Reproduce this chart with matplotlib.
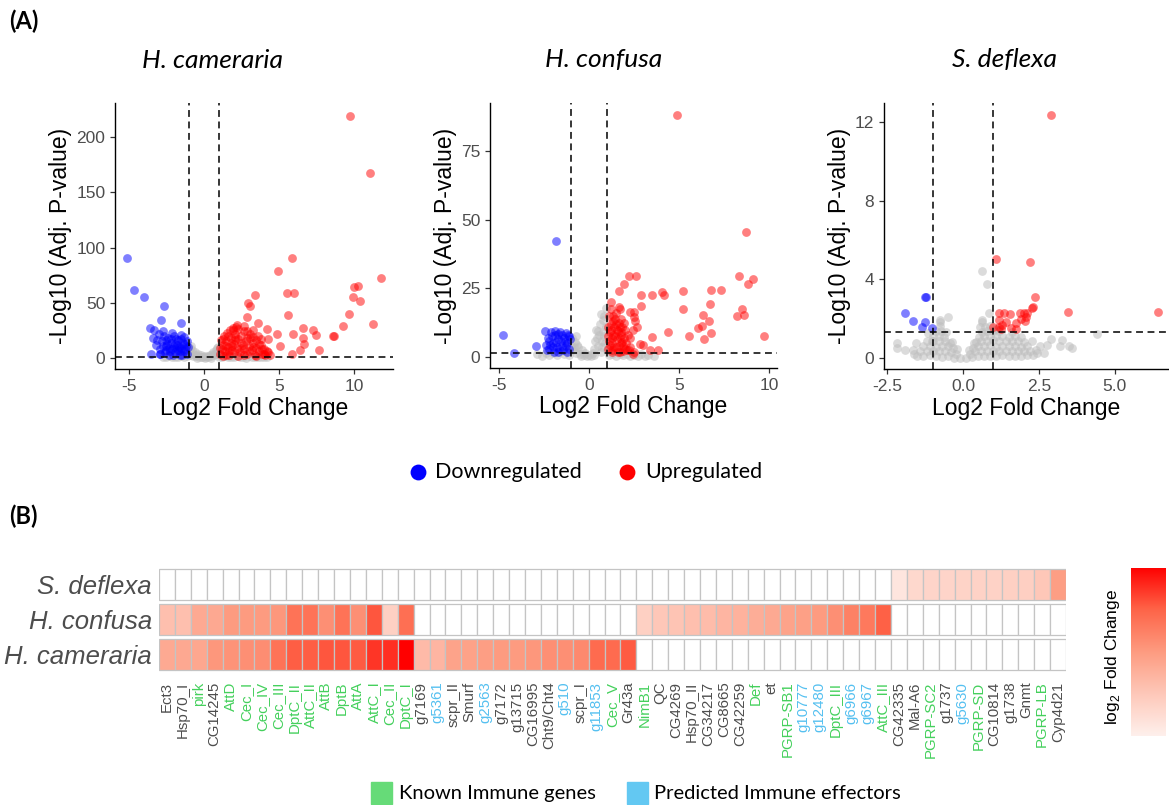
import matplotlib
matplotlib.use("Agg")
import matplotlib.pyplot as plt
import numpy as np
from matplotlib.colors import LinearSegmentedColormap, Normalize
from matplotlib.patches import Rectangle

W, H = 1169, 805
plt.rcParams["font.family"] = ["Liberation Sans", "DejaVu Sans"]
plt.rcParams["axes.unicode_minus"] = False
plt.rcParams["mathtext.fontset"] = "custom"
plt.rcParams["mathtext.rm"] = "Liberation Sans"

nan = float("nan")

# ---- volcano data: (log2 fold change, -log10 adj. p) ----
cam_up = [
    (9.75, 219), (11.05, 167.5), (11.8, 72), (10.0, 64), (10.3, 65), (9.95, 55), (10.4, 52),
    (9.7, 40), (11.25, 31), (9.3, 29), (8.6, 20), (8.7, 20), (4.93, 79), (5.87, 91), (5.54, 59),
    (6.03, 59), (5.6, 39), (4.9, 22), (5.1, 10.5), (5.94, 22), (6.57, 27), (7.24, 25), (7.5, 21),
    (6.6, 18), (6.7, 12.7), (6.4, 7), (7.7, 7), (5.9, 3.3), (3.43, 57), (2.94, 50), (3.07, 47),
    (2.9, 37), (3.63, 32), (2.7, 29), (3.27, 25), (4.17, 26), (4.28, 17.5), (2.2, 29.5), (1.93, 25),
    (1.1, 4), (1.2, 8), (1.3, 12), (1.4, 6), (1.5, 15), (1.6, 10), (1.7, 3), (1.8, 18), (1.9, 7),
    (2.0, 13), (2.1, 22), (2.2, 9), (2.3, 17), (2.4, 5), (2.5, 20), (2.6, 12), (2.7, 8), (2.8, 15),
    (2.9, 4), (3.0, 11), (3.1, 18), (3.2, 7), (3.3, 14), (3.4, 3), (3.5, 9), (3.6, 20), (3.7, 6),
    (3.8, 12), (3.9, 4), (4.0, 8), (4.1, 3), (4.2, 6), (4.3, 5), (4.4, 2.5), (1.15, 16), (1.35, 20),
    (1.55, 23), (1.75, 25), (1.95, 27), (2.15, 28), (2.05, 19), (1.25, 2), (1.45, 3), (1.65, 6),
    (1.85, 11), (2.25, 2), (2.45, 14), (2.65, 24), (2.85, 18), (3.05, 22), (3.25, 19), (3.45, 2),
    (3.65, 13), (3.85, 8), (1.05, 9), (1.5, 11), (2.0, 5), (2.5, 9), (3.0, 6), (3.5, 16), (4.0, 3.5),
    (2.3, 26), (1.8, 14), (2.7, 3), (3.3, 10), (1.3, 17), (2.9, 24), (3.8, 17), (2.1, 16), (1.6, 20),
]
cam_down = [
    (-5.13, 91), (-4.64, 61.5), (-4.01, 55), (-2.67, 47), (-2.87, 34), (-3.59, 27), (-1.5, 32),
    (-3.5, 4), (-2.9, 4), (-3.4, 18), (-3.2, 12), (-3.0, 22), (-2.9, 8), (-2.8, 15), (-2.7, 24),
    (-2.6, 5), (-2.5, 11), (-2.4, 18), (-2.3, 3), (-2.2, 14), (-2.1, 8), (-2.0, 20), (-1.9, 5),
    (-1.8, 12), (-1.7, 16), (-1.6, 3), (-1.5, 9), (-1.4, 14), (-1.3, 6), (-1.2, 11), (-1.1, 4),
    (-1.15, 15), (-1.35, 19), (-1.55, 21), (-1.75, 7), (-1.95, 13), (-2.15, 23), (-2.35, 9),
    (-2.55, 16), (-2.75, 11), (-2.95, 4), (-3.1, 16), (-1.25, 8), (-1.45, 2.5), (-1.65, 10),
    (-1.85, 17), (-2.05, 2.5), (-2.25, 6), (-2.45, 13), (-2.65, 20), (-1.05, 10), (-1.5, 17),
    (-2.0, 10), (-2.5, 7), (-1.3, 13), (-1.8, 9), (-1.6, 6), (-3.3, 25), (-2.2, 17),
]
cam_ns = [
    (-2.7, 1), (-2.5, 0.5), (-2.3, 1.5), (-2.1, 0.8), (-1.9, 1.2), (-1.7, 0.6), (-1.5, 1.8),
    (-1.3, 0.9), (-1.1, 2), (-1.0, 5), (-0.95, 9), (-0.9, 3), (-0.8, 7), (-0.7, 2), (-0.6, 5),
    (-0.5, 1.5), (-0.4, 3.5), (-0.3, 1), (-0.2, 2.5), (-0.1, 0.5), (0.0, 1.5), (0.1, 0.3),
    (0.2, 2.2), (0.3, 1), (0.4, 3), (0.5, 1.8), (0.6, 5), (0.7, 2.5), (0.8, 7), (0.9, 4),
    (0.95, 10), (1.0, 1.2), (1.2, 0.5), (1.4, 1.5), (1.6, 0.7), (1.8, 1.3), (2.0, 0.5), (2.2, 1.6),
    (2.4, 0.8), (2.6, 1.2), (2.8, 0.4), (3.0, 1.4), (3.2, 0.8), (3.4, 1.1), (3.6, 0.6), (3.8, 1.0),
    (4.0, 0.5), (4.2, 1.2), (-0.85, 11), (-0.75, 4), (0.85, 9), (0.75, 4), (-0.15, 1.3),
    (0.15, 1.1), (-0.45, 0.4), (0.45, 0.4), (-1.2, 3.5), (1.1, 3), (-0.55, 3), (0.55, 3.2),
]

conf_up = [
    (4.89, 88.2), (8.7, 45.6), (8.33, 29.5), (9.09, 28.3), (8.83, 26.7), (8.22, 15), (8.63, 15.2),
    (8.5, 17.4), (9.7, 7.5), (6.8, 24.2), (7.35, 24.4), (6.74, 19.3), (6.33, 15.2), (6.67, 13.2),
    (6.3, 11.4), (6.06, 10.5), (6.76, 8.6), (6.37, 6.7), (5.54, 7.7), (5.22, 24.1), (5.22, 17.3),
    (4.37, 9.1), (4.07, 23.8), (4.15, 22.7), (3.52, 22.7), (3.5, 7.2), (3.83, 2.7), (3.37, 2.7),
    (2.2, 29.5), (2.63, 29.5), (1.93, 26.4), (1.69, 24), (2.89, 22.4), (2.89, 18.5), (1.24, 20),
    (1.67, 18.2), (1.74, 17.3), (2.28, 16.4), (2.5, 16.4), (2.5, 14.6), (2.56, 13.1), (2.43, 9.7),
    (2.65, 11), (2.81, 4.9), (3.0, 4.5), (2.26, 6.8), (2.2, 2.4), (2.44, 1.2),
    (1.05, 3), (1.1, 6), (1.15, 9), (1.2, 12), (1.25, 2), (1.3, 5), (1.35, 8), (1.4, 11),
    (1.45, 14), (1.5, 3.5), (1.55, 6.5), (1.6, 9.5), (1.65, 12.5), (1.7, 2), (1.75, 5), (1.8, 8),
    (1.85, 11), (1.9, 4), (1.95, 7), (2.0, 10), (1.1, 15), (1.2, 17.5), (1.35, 13), (1.5, 16),
    (1.65, 4), (1.8, 14), (1.05, 11), (1.3, 2.5), (1.45, 7.5), (1.6, 1.8), (1.75, 9), (1.9, 2.2),
    (2.05, 5), (2.1, 2.5), (1.15, 4.5), (1.4, 3.5), (1.55, 10), (1.7, 7), (1.85, 5.5), (2.0, 3),
    (1.25, 7), (1.5, 12), (1.2, 10), (1.7, 11), (1.35, 15), (2.15, 8), (2.3, 3.5), (2.5, 2),
    (1.95, 12.5), (1.05, 7.5),
]
conf_down = [
    (-1.85, 42.3), (-4.8, 8.1), (-4.15, 1.3), (-2.96, 3.9), (-2.45, 9.5), (-2.3, 7), (-2.2, 3),
    (-2.1, 9), (-2.0, 5), (-1.9, 8), (-1.8, 3.5), (-1.7, 6.5), (-1.6, 9), (-1.5, 4), (-1.4, 7),
    (-1.3, 8.9), (-1.2, 5), (-1.1, 3), (-1.05, 6.5), (-1.15, 8), (-1.25, 2), (-1.35, 5.5),
    (-1.45, 2.5), (-1.55, 6), (-1.65, 3), (-1.75, 8.5), (-1.85, 5.5), (-1.95, 2), (-2.05, 7.5),
    (-2.15, 4.5), (-2.25, 6), (-2.35, 2.5), (-2.4, 4.5), (-1.9, 9.5), (-1.5, 8), (-1.3, 4),
    (-1.7, 2), (-2.0, 3.5), (-1.1, 7.5),
]
conf_ns = [
    (-2.9, 1.2), (-2.6, 0.5), (-2.4, 1.5), (-2.2, 0.8), (-2.0, 1.3), (-1.8, 0.6), (-1.6, 1.8),
    (-1.4, 1.0), (-1.2, 2.2), (-1.0, 4), (-0.95, 7), (-0.9, 2.5), (-0.8, 5.5), (-0.7, 1.5),
    (-0.6, 3.5), (-0.5, 1), (-0.4, 2.5), (-0.3, 0.7), (-0.2, 1.5), (-0.1, 0.4), (0.0, 0.8),
    (0.1, 0.3), (0.2, 1.5), (0.3, 3), (0.35, 6), (0.4, 10), (0.5, 4), (0.55, 8), (0.6, 12),
    (0.65, 2), (0.7, 6), (0.75, 13.6), (0.8, 9), (0.85, 15), (0.9, 5), (0.93, 18), (0.95, 11),
    (0.98, 2.5), (1.1, 0.8), (1.3, 1.2), (1.5, 0.5), (1.7, 1.0), (1.9, 0.6), (2.1, 1.1), (2.3, 0.4),
    (2.5, 0.9), (2.7, 0.5), (2.9, 1.0), (3.1, 0.3), (3.3, 0.8), (3.6, 0.5), (-0.85, 3.5),
    (-0.75, 7.5), (-0.65, 4.5), (0.45, 7), (0.25, 0.8), (-0.45, 0.3), (0.7, 3.5), (0.85, 7.5),
    (-1.1, 0.6), (0.65, 15.5), (0.5, 9.5),
]

defl_up = [
    (2.91, 12.34), (1.1, 5.03), (2.19, 4.88), (2.36, 3.08), (2.31, 2.6), (2.27, 2.52), (3.45, 2.35),
    (6.43, 2.35), (1.19, 2.3), (1.34, 2.3), (1.56, 2.23), (1.89, 2.3), (2.0, 2.3), (2.11, 2.3),
    (2.07, 2.09), (1.19, 1.92), (1.43, 1.85), (1.76, 1.8), (2.05, 1.87), (1.19, 1.55), (1.25, 1.48),
    (1.59, 1.53), (1.74, 1.48), (1.0, 1.6), (1.3, 1.7), (1.9, 2.0),
]
defl_down = [
    (-1.24, 3.09), (-1.21, 3.09), (-1.92, 2.31), (-1.63, 1.87), (-1.24, 1.84), (-1.36, 1.58),
    (-1.02, 1.53),
]
defl_ns = [
    (0.64, 4.42), (0.8, 3.74), (0.87, 2.31), (0.64, 1.92), (-0.77, 1.92), (-0.49, 2.06),
    (4.42, 1.24), (3.19, 0.61), (3.5, 0.61), (3.6, 0.5), (3.27, 0.93), (2.88, 0.98), (2.78, 0.65),
    (2.67, 0.27), (2.42, 0.27), (2.55, 0.61), (2.27, 0.87), (-2.18, 0.78), (-2.18, 0.53),
    (-1.92, 0.41), (-1.63, 0.41), (-1.54, 0.75), (-1.01, 0.87),
    (-1.5, 0.12), (-1.3, 0.08), (-1.1, 0.15), (-0.9, 0.1), (-0.7, 0.05), (-0.5, 0.12),
    (-0.3, 0.02), (-0.1, 0.0), (0.1, 0.02), (0.3, 0.05), (0.5, 0.1), (0.7, 0.08), (0.9, 0.12),
    (1.1, 0.1), (1.3, 0.14), (1.5, 0.09), (1.7, 0.12), (1.9, 0.1), (2.1, 0.15),
    (-1.4, 0.35), (-1.2, 0.38), (-1.0, 0.33), (-0.8, 0.36), (-0.6, 0.34), (-0.4, 0.3),
    (-0.22, 0.2), (0.22, 0.22), (0.4, 0.33), (0.6, 0.37), (0.8, 0.35), (1.0, 0.38), (1.2, 0.34),
    (1.4, 0.36), (1.6, 0.33), (1.8, 0.37), (2.0, 0.35), (2.2, 0.33), (2.4, 0.4),
    (-1.3, 0.6), (-1.1, 0.62), (-0.9, 0.58), (-0.7, 0.63), (-0.5, 0.6), (-0.33, 0.5), (0.33, 0.5),
    (0.5, 0.62), (0.7, 0.6), (0.9, 0.64), (1.1, 0.58), (1.3, 0.62), (1.5, 0.6), (1.7, 0.63),
    (1.9, 0.57), (2.1, 0.6),
    (-1.2, 0.85), (-1.0, 0.88), (-0.8, 0.86), (-0.6, 0.84), (-0.44, 0.75), (0.42, 0.8),
    (0.6, 0.88), (0.8, 0.85), (1.0, 0.9), (1.2, 0.86), (1.4, 0.84), (1.6, 0.88), (1.8, 0.85),
    (2.0, 0.83),
    (-1.0, 1.1), (-0.8, 1.12), (-0.62, 1.08), (0.52, 1.05), (0.7, 1.12), (0.9, 1.1), (1.1, 1.13),
    (1.3, 1.1), (1.5, 1.08), (1.7, 1.12),
    (-0.9, 1.35), (-0.72, 1.38), (0.62, 1.32), (0.8, 1.38), (1.0, 1.35), (1.2, 1.36),
    (-0.75, 1.62), (0.72, 1.6), (0.9, 1.65), (-0.77, 1.85), (0.62, 1.85),
    (-1.6, 0.22), (-0.2, 0.45), (0.2, 0.4), (-0.35, 0.8), (0.35, 0.75), (2.3, 0.15),
    (1.6, 1.3), (1.9, 1.05), (-1.15, 1.25), (-0.55, 1.3), (0.55, 1.55), (1.1, 1.45),
]

# ---- heatmap data ----
genes = [
    "Ect3", "Hsp70_I", "pirk", "CG14245", "AttD", "Cec_I", "Cec_IV", "Cec_III", "DptC_II",
    "AttC_II", "AttB", "DptB", "AttA", "AttC_I", "Cec_II", "DptC_I", "g7169", "g5361", "scpr_II",
    "Smurf", "g2563", "g7172", "g13715", "CG16995", "Cht9/Cht4", "g510", "scpr_I", "g11853",
    "Cec_V", "Gr43a", "NimB1", "QC", "CG4269", "Hsp70_II", "CG34217", "CG8665", "CG42259", "Def",
    "et", "PGRP-SB1", "g10777", "g12480", "DptC_III", "g6966", "g6967", "AttC_III", "CG42335",
    "Mal-A6", "PGRP-SC2", "g1737", "g5630", "PGRP-SD", "CG10814", "g1738", "Gnmt", "PGRP-LB",
    "Cyp4d21",
]
gene_group = [
    "other", "other", "known", "other", "known", "known", "known", "known", "known",
    "known", "known", "known", "known", "known", "known", "known", "other", "predicted", "other",
    "other", "predicted", "other", "other", "other", "other", "predicted", "other", "predicted",
    "known", "other", "known", "other", "other", "other", "other", "other", "other", "known",
    "other", "known", "predicted", "predicted", "known", "predicted", "predicted", "known", "other",
    "other", "known", "other", "predicted", "known", "other", "other", "other", "known",
    "other",
]
species = ["H. cameraria", "H. confusa", "S. deflexa"]
lfc_cameraria = [
    5.6, 5.7, 5.8, 6.7, 6.9, 7.1, 7.2, 8.5, 9.4, 9.4, 9.6, 9.6, 9.5, 10.5, 10.7, 12.0,
    4.6, 4.9, 6.0, 6.1, 6.3, 6.5, 6.5, 6.7, 7.1, 7.1, 7.4, 8.9, 8.9, 9.5,
] + [nan] * 27
lfc_confusa = [
    4.3, 4.3, 5.6, 5.7, 6.5, 6.5, 6.5, 6.7, 8.5, 8.5, 7.1, 8.5, 7.1, 9.6, 3.2, 8.7,
] + [nan] * 14 + [
    3.2, 3.8, 4.0, 4.3, 4.5, 4.9, 5.1, 5.4, 5.6, 6.0, 6.2, 6.5, 7.1, 7.8, 8.2, 9.3,
] + [nan] * 11
lfc_deflexa = [nan] * 46 + [1.8, 2.7, 2.9, 2.9, 3.0, 3.1, 3.1, 3.2, 3.3, 3.8, 6.3]

GREY_TXT = "#4D4D4D"
GREEN = "#44D05C"
BLUE = "#55C0F0"
group_color = {"other": GREY_TXT, "known": GREEN, "predicted": BLUE}

fig = plt.figure(figsize=(W / 100, H / 100), dpi=100)


def box(left, top, right, bottom):
    return [left / W, 1 - bottom / H, (right - left) / W, (bottom - top) / H]


def volcano(rect, ns, down, up, xlim, ylim, xticks, yticks, xlabels=None):
    ax = fig.add_axes(rect)
    for pts, col, a in ((ns, "#BEBEBE", 0.55), (down, "blue", 0.5), (up, "red", 0.5)):
        xs, ys = zip(*pts)
        ax.scatter(xs, ys, s=40, color=col, alpha=a, linewidths=0, zorder=2)
    dash = (0, (4.5, 3))
    for v in (-1, 1):
        ax.axvline(v, color="black", lw=1.1, ls=dash, zorder=4)
    ax.axhline(-np.log10(0.05), color="black", lw=1.1, ls=dash, zorder=4)
    ax.set_xlim(*xlim)
    ax.set_ylim(*ylim)
    ax.set_xticks(xticks)
    if xlabels:
        ax.set_xticklabels(xlabels)
    ax.set_yticks(yticks)
    for s in ("top", "right"):
        ax.spines[s].set_visible(False)
    for s in ("left", "bottom"):
        ax.spines[s].set_linewidth(1.0)
    ax.tick_params(labelsize=12.5, labelcolor=GREY_TXT, length=3.5, width=0.9, color="#333333")
    ax.set_xlabel("Log2 Fold Change", fontsize=16.5, labelpad=2)
    ax.set_ylabel("-Log10 (Adj. P-value)", fontsize=16.5, labelpad=3)
    return ax


volcano(box(115, 103, 393, 369), cam_ns, cam_down, cam_up, (-5.93, 12.6), (-10, 231),
        [-5, 0, 5, 10], [0, 50, 100, 150, 200])
volcano(box(490, 103, 777, 368), conf_ns, conf_down, conf_up, (-5.5, 10.44), (-4, 92.4),
        [-5, 0, 5, 10], [0, 25, 50, 75])
volcano(box(884, 103, 1169, 369), defl_ns, defl_down, defl_up, (-2.6, 6.78), (-0.56, 12.96),
        [-2.5, 0, 2.5, 5], [0, 4, 8, 12], ["-2.5", "0.0", "2.5", "5.0"])

# ---- heatmap of fold changes ----
cmap = LinearSegmentedColormap.from_list(
    "lfc", ["#FEF0EC", "#FEC8B9", "#FD9B80", "#FE6448", "#FF0000"])
norm = Normalize(vmin=1, vmax=12)

hm = fig.add_axes(box(159, 567, 1066, 672))
rows = [lfc_cameraria, lfc_confusa, lfc_deflexa]
tile_h = 0.89
for r, vals in enumerate(rows):
    for c, v in enumerate(vals):
        face = "white" if np.isnan(v) else cmap(norm(v))
        hm.add_patch(Rectangle((c, r - tile_h / 2), 1, tile_h, facecolor=face,
                               edgecolor="#C4C4C4", linewidth=0.9))
hm.set_xlim(0, len(genes))
hm.set_ylim(-0.5, 2.5)
hm.set_xticks(np.arange(len(genes)) + 0.5)
hm.set_xticklabels(genes, rotation=90, fontsize=10.8)
for lab, grp in zip(hm.get_xticklabels(), gene_group):
    lab.set_color(group_color[grp])
hm.set_yticks(range(len(species)))
hm.set_yticklabels(species, fontsize=18.5, style="italic", color=GREY_TXT)
hm.tick_params(length=0)
hm.tick_params(axis="x", pad=7)
hm.tick_params(axis="y", pad=5)
for s in hm.spines.values():
    s.set_visible(False)

cb = fig.add_axes(box(1131, 568, 1166, 736))
cb.imshow(np.linspace(1, 12, 256)[::-1, None], aspect="auto", cmap=cmap, norm=norm)
cb.axis("off")
fig.text(1113 / W, 1 - 657 / H, r"log$_2$ Fold Change", rotation=90, fontsize=12.5,
         ha="center", va="center")

# ---- overlay for panel letters, titles and legends (pixel coordinates) ----
ov = fig.add_axes([0, 0, 1, 1])
ov.set_xlim(0, W)
ov.set_ylim(H, 0)
ov.axis("off")
lato = ["Lato", "DejaVu Sans"]
ov.text(9, 21, "(A)", fontsize=17, fontweight="bold", family=lato, va="center")
ov.text(9, 516, "(B)", fontsize=17, fontweight="bold", family=lato, va="center")
for xc, name in ((212, "H. cameraria"), (604, "H. confusa"), (1005, "S. deflexa")):
    ov.text(xc, 60, name, fontsize=19, style="italic", family=lato, ha="center", va="center")

ov.scatter([418], [472], s=130, color="blue", linewidths=0)
ov.text(435, 472, "Downregulated", fontsize=15.5, family=lato, va="center")
ov.scatter([627], [472], s=130, color="red", linewidths=0)
ov.text(645, 472, "Upregulated", fontsize=15.5, family=lato, va="center")

ov.add_patch(Rectangle((371, 782), 21, 22, color="#66DB78"))
ov.text(399, 793, "Known Immune genes", fontsize=14.5, family=lato, va="center")
ov.add_patch(Rectangle((627, 782), 21, 22, color="#63C8F2"))
ov.text(654, 793, "Predicted Immune effectors", fontsize=14.5, family=lato, va="center")

fig.savefig("out.png", dpi=100)
